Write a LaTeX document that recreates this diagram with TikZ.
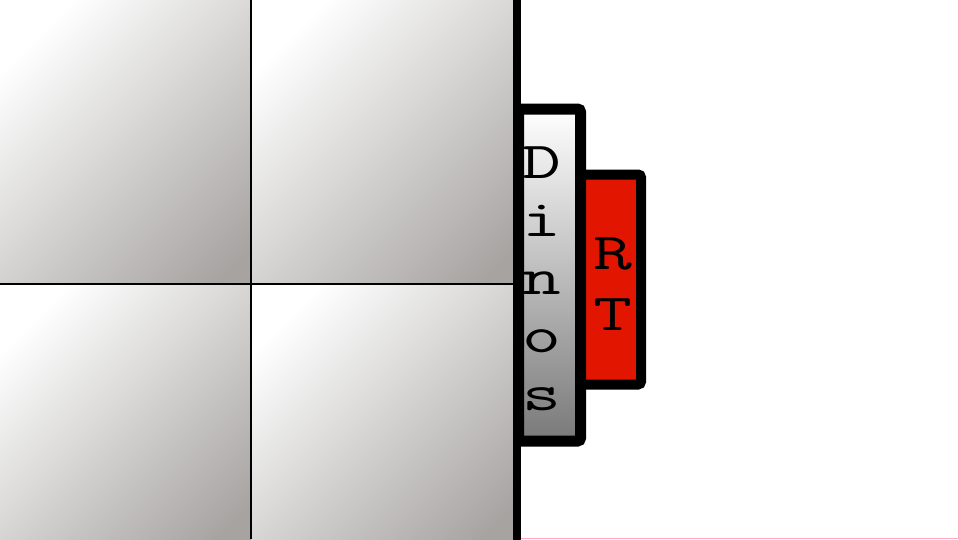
\documentclass[tikz,border=0pt]{standalone}
\usepackage{fontspec}
\definecolor{qgray}{RGB}{166,163,161}
\definecolor{rtred}{RGB}{226,22,0}
\definecolor{edgepink}{RGB}{255,172,190}
\pgfdeclareverticalshading{quadshade}{100bp}{color(0bp)=(qgray); color(19bp)=(qgray); color(76bp)=(white); color(100bp)=(white)}
\newcommand{\wideletter}[1]{\scalebox{1.45}[1]{#1}}
\begin{document}
\begin{tikzpicture}[x=1pt,y=-1pt,
  quad/.style={shading=quadshade,shading angle=45},
  thinline/.style={line width=2.6pt,black},
  thickline/.style={line width=8pt,black},
  dbox/.style={rectangle,draw=black,line width=11pt,rounded corners=3pt,
    top color=white,middle color=gray!20,bottom color=gray!95!black,
    inner sep=0pt,outer sep=0pt,minimum width=62pt,minimum height=332pt},
  rtbox/.style={rectangle,draw=black,line width=10pt,rounded corners=3pt,
    fill=rtred,inner sep=0pt,outer sep=0pt,minimum width=60.5pt,minimum height=210pt},
  letter/.style={anchor=base,inner sep=0pt,font=\ttfamily\fontsize{52}{52}\selectfont}]
\useasboundingbox (0,0) rectangle (959,539);
\fill[white] (0,0) rectangle (959,539);
% quadrants
\shade[quad] (0,0) rectangle (251,284);
\shade[quad] (251,0) rectangle (517,284);
\shade[quad] (0,284) rectangle (251,539);
\shade[quad] (251,284) rectangle (517,539);
% grid lines
\coordinate (vt) at (251,0);
\coordinate (vb) at (251,539);
\coordinate (hl) at (0,284);
\coordinate (hr) at (517,284);
\draw[thinline] (vt) -- (vb);
\draw[thinline] (hl) -- (hr);
% pink edge
\coordinate (pbl) at (521,538.4);
\coordinate (pbr) at (958.4,538.4);
\coordinate (ptr) at (958.4,0);
\draw[edgepink,line width=1.3pt] (pbl) -- (pbr) -- (ptr);
% boxes
\node[rtbox] (rt) at (610.75,279.5) {};
\node[dbox] (dinos) at (549.5,275) {};
% thick wall
\coordinate (wt) at (517,0.5);
\coordinate (wb) at (517,539);
\draw[thickline,line cap=round] (wt) -- (wb);
% letters
\node[letter] (lD) at (542,178) {\wideletter{D}};
\node[letter] (li) at (542,236) {\wideletter{i}};
\node[letter] (ln) at (542,294) {\wideletter{n}};
\node[letter] (lo) at (542,352) {\wideletter{o}};
\node[letter] (ls) at (542,410) {\wideletter{s}};
\node[letter] (lR) at (613,269) {\wideletter{R}};
\node[letter] (lT) at (613,330) {\wideletter{T}};
\end{tikzpicture}
\end{document}
